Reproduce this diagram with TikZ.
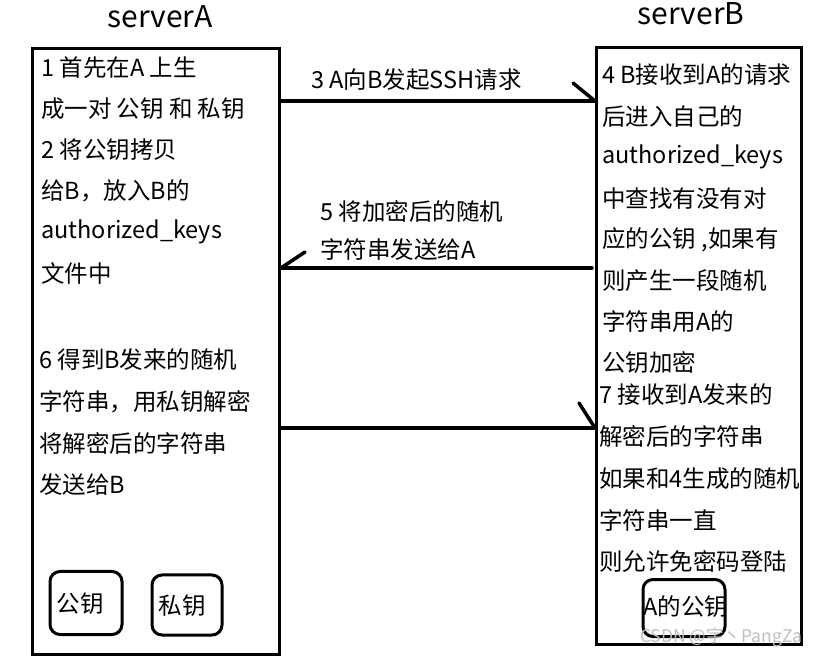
\documentclass[tikz,border=0pt]{standalone}
\usepackage{fontspec}
\setmainfont{Noto Sans CJK SC}
\begin{document}
\begin{tikzpicture}[x=1pt,y=-1pt,
  box/.style={draw,line width=3pt,rectangle,inner sep=0pt,anchor=north west},
  keybox/.style={draw,line width=3pt,rounded corners=10pt,inner sep=0pt},
  txt/.style={anchor=west,inner sep=0pt,font=\fontsize{23.5}{28}\selectfont},
  title/.style={inner sep=0pt,font=\fontsize{30}{34}\selectfont},
  conn/.style={line width=3.5pt,line cap=round}]
\useasboundingbox (0,0) rectangle (815,660);
\fill[white] (0,0) rectangle (815,660);

% titles
\node[title] (tA) at (160,17) {serverA};
\node[title] (tB) at (691,14) {serverB};

% boxes
\node[box,minimum width=247pt,minimum height=606pt] (boxA) at (31,47) {};
\node[box,minimum width=205pt,minimum height=597pt] (boxB) at (595,46) {};

% serverA text
\foreach \t [count=\i] in {1 首先在A 上生, 成一对 公钥 和 私钥, 2 将公钥拷贝, 给B，放入B的, authorized\_keys, 文件中}
  \node[txt] (a\i) at (41,68+41*\i-41) {\t};
\foreach \t [count=\i] in {6 得到B发来的随机, 字符串，用私钥解密, 将解密后的字符串, 发送给B}
  \node[txt] (c\i) at (39,360+41.5*\i-41.5) {\t};

% serverB text
\foreach \t [count=\i] in {4 B接收到A的请求, 后进入自己的, authorized\_keys, 中查找有没有对, {应的公钥 ,如果有}, 则产生一段随机, 字符串用A的, 公钥加密}
  \node[txt] (b\i) at (602,75+41.1*\i-41.1) {\t};
\foreach \t [count=\i] in {7 接收到A发来的, 解密后的字符串, 如果和4生成的随机, 字符串一直, 则允许免密码登陆}
  \node[txt] (d\i) at (599,395+41.7*\i-41.7) {\t};

% key boxes
\node[keybox,minimum width=72pt,minimum height=63pt] (pubA) at (86,603) {};
\node[txt,anchor=center] (pubAt) at (80,604) {公钥};
\node[keybox,minimum width=70pt,minimum height=60pt] (priA) at (187,605) {};
\node[txt,anchor=center] (priAt) at (182,606) {私钥};
\node[keybox,minimum width=82pt,minimum height=57pt] (pubB) at (684,608) {};
\node[txt,anchor=center] (pubBt) at (686,607) {A的公钥};

% arrows
\coordinate (y1) at (0,101);
\coordinate (y2) at (0,268);
\coordinate (y3) at (0,428);
\draw[conn] (boxA.east |- y1) -- (boxB.west |- y1);
\draw[conn] (boxB.west |- y1) -- ++(-22,-18);
\draw[conn] (boxB.west |- y2) ++(-3,0) -- (boxA.east |- y2);
\draw[conn] (boxA.east |- y2) -- ++(24,-16);
\draw[conn] (boxA.east |- y3) -- (boxB.west |- y3);
\draw[conn] (boxB.west |- y3) -- ++(-16,-25);

% arrow labels
\node[txt] (l1) at (311,80) {3 A向B发起SSH请求};
\node[txt] (l2a) at (320,211) {5 将加密后的随机};
\node[txt] (l2b) at (320,250) {字符串发送给A};

% watermark
\node[txt,font=\fontsize{17.5}{20}\selectfont,text=black!25] (wm) at (640,637) {CSDN @宇丶PangZa};
\end{tikzpicture}
\end{document}
